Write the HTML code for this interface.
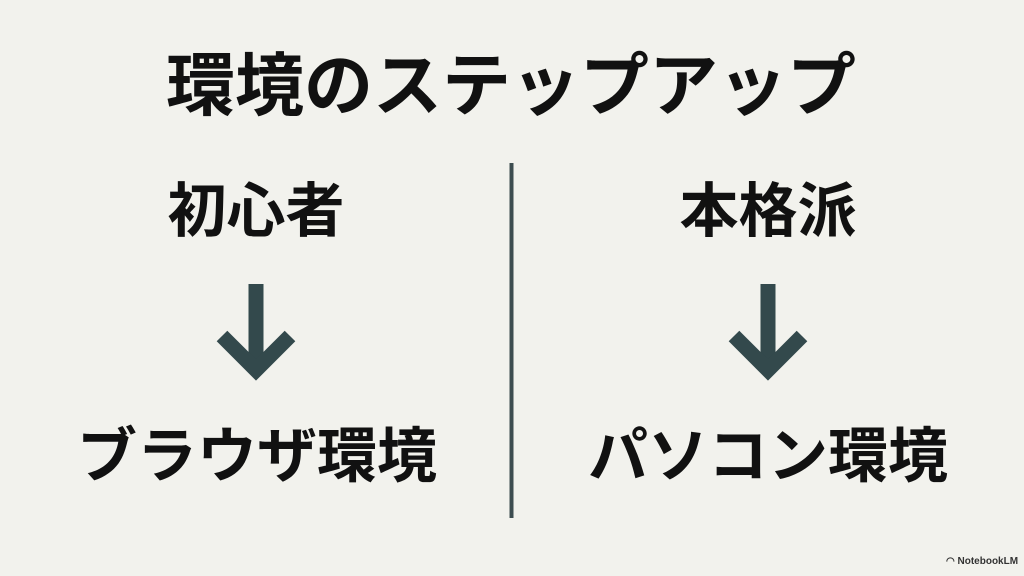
<!DOCTYPE html>
<html><head><meta charset="utf-8"><style>
html,body{margin:0;padding:0}
body{width:1024px;height:576px;background:#f2f2ed;position:relative;overflow:hidden;font-family:"Liberation Sans","Noto Sans CJK JP",sans-serif;color:#111}
.t{position:absolute;font-weight:bold;white-space:nowrap;transform:translate(-50%,-50%);line-height:1}
</style></head><body>
<div class="t" style="left:511px;top:86px;font-size:69px">環境のステップアップ</div>
<div class="t" style="left:256px;top:212px;font-size:59px">初心者</div>
<div class="t" style="left:768px;top:212px;font-size:59px">本格派</div>
<div class="t" style="left:257px;top:457px;font-size:60px">ブラウザ環境</div>
<div class="t" style="left:768px;top:457px;font-size:60px">パソコン環境</div>
<svg width="1024" height="576" style="position:absolute;left:0;top:0">
<line x1="511.5" y1="163" x2="511.5" y2="518" stroke="#3d4d50" stroke-width="4"/>
<g stroke="#33494c" stroke-width="15" fill="none" stroke-linejoin="miter">
<line x1="256" y1="284" x2="256" y2="370"/>
<polyline points="222,336 256,370 290,336"/>
<line x1="768" y1="284" x2="768" y2="370"/>
<polyline points="734,336 768,370 802,336"/>
</g>
</svg>
<div style="position:absolute;left:946px;top:556px;font-size:10px;font-weight:bold;color:#333">◠ NotebookLM</div>
</body></html>
